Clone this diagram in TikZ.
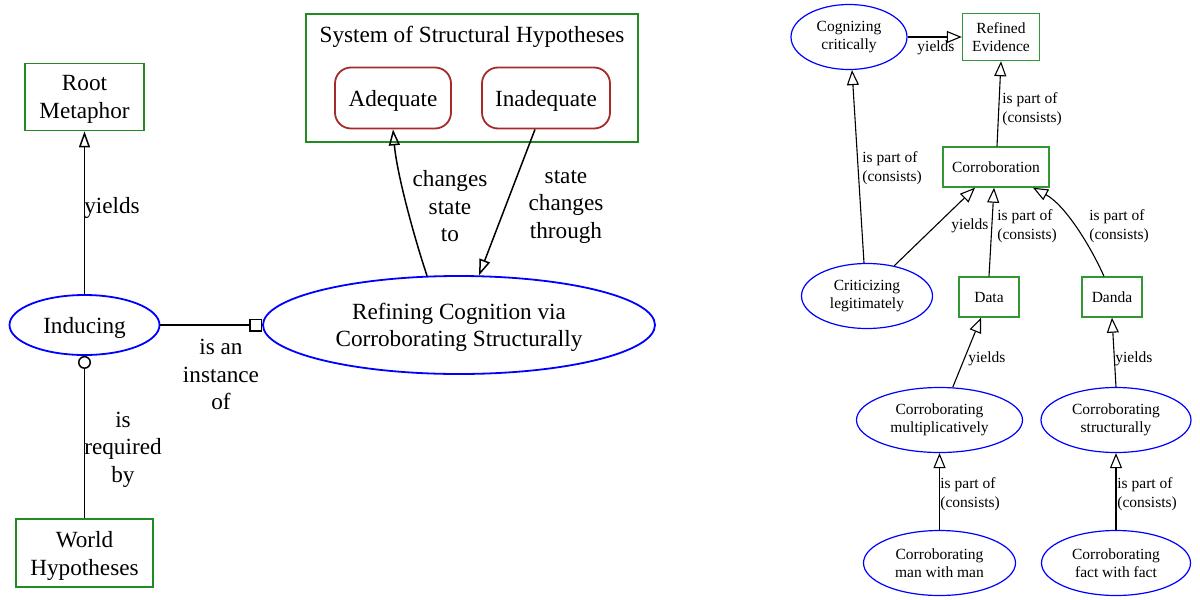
\documentclass[tikz,border=0pt]{standalone}
\usepackage{fontspec}
\setmainfont{Liberation Serif}
\usetikzlibrary{shapes.geometric,arrows.meta,calc}
\definecolor{gvgreen}{RGB}{34,139,34}
\definecolor{gvgreenb}{RGB}{50,150,50}
\definecolor{gvbrown}{RGB}{165,42,42}
\definecolor{gvblue}{RGB}{0,0,255}
\begin{document}
\begin{tikzpicture}[x=0.5pt,y=-0.5pt,
  bigfont/.style={font=\fontsize{11.6pt}{13.75pt}\selectfont},
  smallfont/.style={font=\fontsize{7.75pt}{9.25pt}\selectfont},
  lbox/.style={draw=gvgreen,line width=0.9pt,rectangle,inner sep=0pt},
  lell/.style={draw=gvblue,line width=0.9pt,ellipse,inner sep=0pt},
  lround/.style={draw=gvbrown,line width=0.9pt,rectangle,rounded corners=8pt,inner sep=0pt},
  sbox/.style={draw=gvgreenb,line width=0.7pt,rectangle,align=center,inner sep=0pt,smallfont},
  sell/.style={draw=gvblue,line width=0.6pt,ellipse,align=center,inner sep=0pt,smallfont},
  llab/.style={align=center,inner sep=0pt,bigfont},
  slab/.style={align=left,inner sep=0pt,smallfont},
  ledge/.style={line width=0.75pt},
  sedge/.style={line width=0.55pt},
  tri/.style={-{Triangle[open,length=8pt,width=5.5pt]}},
  stri/.style={-{Triangle[open,length=7.5pt,width=6pt]}},
]
\useasboundingbox (0,0) rectangle (1200,600);

% ---------- left diagram ----------
\node[lbox,minimum width=59.5pt,minimum height=33.5pt] (root) at (84.5,97) {};
\node[llab] (rootT) at (84.5,99.5) {Root\\Metaphor};
\node[lell,minimum width=75pt,minimum height=30pt] (induc) at (84.5,325) {};
\node[llab] (inducT) at (84.5,327.5) {Inducing};
\node[lbox,minimum width=68.5pt,minimum height=34pt] (world) at (84.5,553) {};
\node[llab] (worldT) at (84.5,556) {World\\Hypotheses};
\node[lell,minimum width=196pt,minimum height=49pt] (ref) at (459,325) {};
\node[llab] (refT) at (459,327.5) {Refining Cognition via\\Corroborating Structurally};
\node[draw=gvgreen,line width=0.9pt,rectangle,minimum width=166pt,minimum height=64pt,inner sep=0pt] (sys) at (472,78) {};
\node[llab] (systitle) at (472,36.5) {System of Structural Hypotheses};
\node[lround,minimum width=58pt,minimum height=30.5pt] (adeq) at (393,98) {};
\node[llab] (adeqT) at (393,100.5) {Adequate};
\node[lround,minimum width=64pt,minimum height=30.5pt] (inad) at (546,98) {};
\node[llab] (inadT) at (546,100.5) {Inadequate};

\draw[ledge,tri] (induc) -- (root);
\node[llab] (l1) at (112,207.5) {yields};
\draw[ledge,{Circle[open,length=6.5pt]}-] (induc) -- (world);
\node[llab] (l2) at (123,449.5) {is\\required\\by};
\draw[ledge,-{Square[open,length=6.5pt,width=6.5pt]}] (induc) -- (ref);
\node[llab] (l3) at (221,374.5) {is an\\instance\\of};
\draw[ledge,tri] (ref.123) .. controls (415,240) and (397,175) .. (adeq.south);
\node[llab] (l4) at (450,206.5) {changes\\state\\to};
\draw[ledge,tri] ($(inad.south)+(-11,0)$) -- (ref.68);
\node[llab] (l5) at (566,206.5) {state\\changes\\through};

% ---------- right diagram ----------
\node[sell,minimum width=58pt,minimum height=32.5pt] (cog) at (849,37) {Cognizing\\critically};
\node[sbox,minimum width=38.5pt,minimum height=23.5pt] (refev) at (1001,37) {Refined\\Evidence};
\node[sbox,minimum width=53pt,minimum height=20pt] (corr) at (996,167) {Corroboration};
\node[sell,minimum width=65.5pt,minimum height=32.5pt] (crit) at (867,296) {Criticizing\\legitimately};
\node[sbox,minimum width=30pt,minimum height=20pt] (data) at (989,297) {Data};
\node[sbox,minimum width=30pt,minimum height=20pt] (danda) at (1112,297) {Danda};
\node[sell,minimum width=83pt,minimum height=32.5pt] (mult) at (939.5,420) {Corroborating\\multiplicatively};
\node[sell,minimum width=75pt,minimum height=32.5pt] (struct) at (1116,420) {Corroborating\\structurally};
\node[sell,minimum width=76pt,minimum height=32.5pt] (man) at (939.5,563) {Corroborating\\man with man};
\node[sell,minimum width=74.5pt,minimum height=32.5pt] (fact) at (1116,563) {Corroborating\\fact with fact};

\draw[sedge,stri] (cog.east) -- (refev.west);
\node[smallfont,inner sep=0pt] (r1) at (936,48) {yields};
\draw[sedge,stri] ($(corr.north)+(1,0)$) -- (refev.south);
\node[slab,anchor=west] (r2) at (1002,109) {is part of\\(consists)};
\draw[sedge,stri] ($(crit.north)+(-3,0)$) -- ($(cog.south)+(3,0)$);
\node[slab,anchor=west] (r3) at (862,168) {is part of\\(consists)};
\draw[sedge,stri] (crit.48) -- ($(corr.south)+(-21,0)$);
\node[smallfont,inner sep=0pt] (r4) at (970,226) {yields};
\draw[sedge,stri] (data.north) -- ($(corr.south)+(-2,0)$);
\node[slab,anchor=west] (r5) at (997,226) {is part of\\(consists)};
\draw[sedge,stri] ($(danda.north)+(-8,0)$) .. controls (1090,245) and (1065,205) .. ($(corr.south)+(37,0)$);
\node[slab,anchor=west] (r6) at (1089,226) {is part of\\(consists)};
\draw[sedge,stri] (mult.68) -- ($(data.south)+(-8,0)$);
\node[smallfont,inner sep=0pt,anchor=west] (r7) at (968,359) {yields};
\draw[sedge,stri] (struct.north) -- (danda.south);
\node[smallfont,inner sep=0pt,anchor=west] (r8) at (1115,359) {yields};
\draw[sedge,stri] (man) -- (mult);
\node[slab,anchor=west] (r9) at (940,494) {is part of\\(consists)};
\draw[sedge,stri] (fact) -- (struct);
\node[slab,anchor=west] (r10) at (1117,494) {is part of\\(consists)};
\end{tikzpicture}
\end{document}
